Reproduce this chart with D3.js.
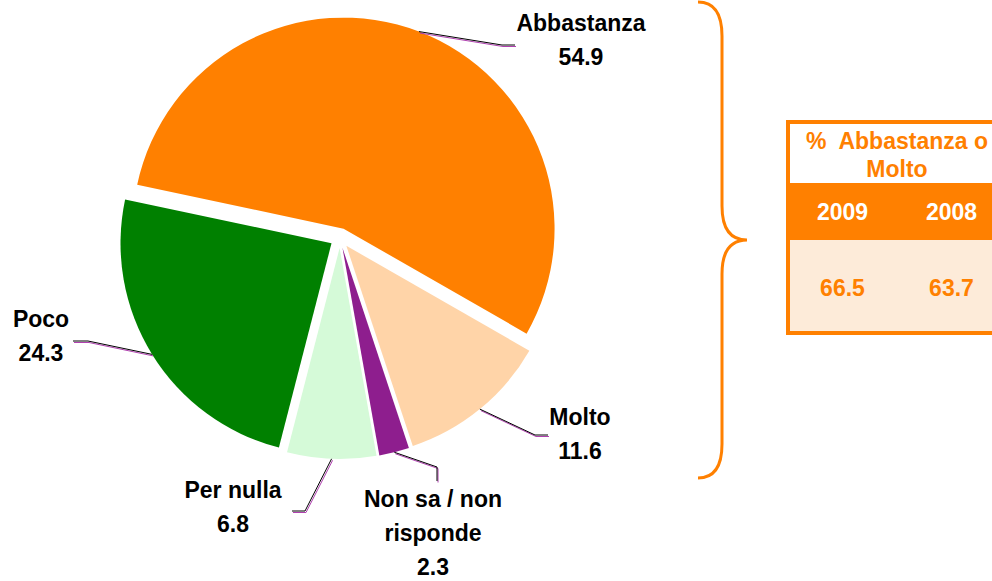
<!DOCTYPE html>
<html>
<head>
<meta charset="utf-8">
<script src="https://cdn.jsdelivr.net/npm/d3@7"></script>
<style>
  body { margin: 0; background: #fff; }
  svg { display: block; }
  text { font-family: "Liberation Sans", Arial, sans-serif; font-weight: bold; white-space: pre; }
</style>
</head>
<body>
<svg id="chart"></svg>
<script>
// data
const categories = ["Abbastanza", "Molto", "Non sa / non risponde", "Per nulla", "Poco"];
const values = [54.9, 11.6, 2.3, 6.8, 24.3];
const sliceColors = ["#FF8000", "#FFD4A8", "#8E1E8E", "#D5FAD8", "#008000"];
const labelLines = [["Abbastanza"], ["Molto"], ["Non sa / non", "risponde"], ["Per nulla"], ["Poco"]];
const tableYears = ["2009", "2008"];
const tableValues = [66.5, 63.7];
const tableTitle = ["%  Abbastanza o", "Molto"];

// layout for labels: text anchor + leader elbow/end points
const labelLayout = [
    {x: 581, y: 31, elbow: [502, 45], end: [515, 45]},
    {x: 580, y: 425, elbow: [535, 435], end: [548, 435]},
    {x: 433, y: 507, elbow: [437, 467], end: [437, 481]},
    {x: 233, y: 498, elbow: [305, 511], end: [292, 511]},
    {x: 41, y: 327, elbow: [88, 341], end: [73, 341]}
];

const width = 992;
const height = 581;
const cx = 340, cy = 238;
const radius = 211;
const explode = 10;
const fontSize = 23;
const lineH = 34;

const svg = d3.select("#chart")
    .attr("width", width)
    .attr("height", height);

const startA = -78 * Math.PI / 180;
const pie = d3.pie().sort(null).value(d => d).startAngle(startA).endAngle(startA + 2 * Math.PI);
const arcs = pie(values);
const arc = d3.arc().innerRadius(0).outerRadius(radius);

const mid = d => (d.startAngle + d.endAngle) / 2;
const dirOf = a => [Math.sin(a), -Math.cos(a)];

const pieG = svg.append("g").attr("transform", `translate(${cx},${cy})`);

pieG.selectAll("path.slice")
    .data(arcs)
    .enter().append("path")
    .attr("class", "slice")
    .attr("transform", d =>
    {
        const [dx, dy] = dirOf(mid(d));
        return `translate(${dx * explode},${dy * explode})`;
    })
    .attr("d", arc)
    .attr("fill", (d, i) => sliceColors[i]);

// leader lines
arcs.forEach((d, i) =>
{
    const [dx, dy] = dirOf(mid(d));
    const sx = cx + dx * (explode + radius);
    const sy = cy + dy * (explode + radius);
    const lay = labelLayout[i];
    const pts = [[sx, sy], lay.elbow, lay.end];

    svg.append("polyline")
        .attr("points", pts.map(p => `${p[0] + 1},${p[1] + 1.5}`).join(" "))
        .attr("fill", "none")
        .attr("stroke", "#B040B0")
        .attr("stroke-width", 1);

    svg.append("polyline")
        .attr("points", pts.map(p => p.join(",")).join(" "))
        .attr("fill", "none")
        .attr("stroke", "#000")
        .attr("stroke-width", 1);

    const lines = labelLines[i].concat([values[i].toFixed(1)]);
    lines.forEach((t, j) =>
    {
        svg.append("text")
            .attr("x", lay.x)
            .attr("y", lay.y + j * lineH)
            .attr("text-anchor", "middle")
            .attr("font-size", fontSize)
            .attr("fill", "#000")
            .text(t);
    });
});

// brace
svg.append("path")
    .attr("d", "M698,2 Q722,2 722,36 L722,206 Q722,240 747,240 Q722,240 722,274 L722,444 Q722,478 698,478")
    .attr("fill", "none")
    .attr("stroke", "#FF8000")
    .attr("stroke-width", 3);

// summary table
const tx = 788, ty = 122, tw = 218;
const headH = 61, yearH = 57, valH = 93;
const colX = d3.scalePoint().domain(tableYears).range([tx + tw / 4, tx + 3 * tw / 4]);

const tbl = svg.append("g");
tbl.append("rect")
    .attr("x", tx).attr("y", ty + headH)
    .attr("width", tw).attr("height", yearH)
    .attr("fill", "#FF8000");
tbl.append("rect")
    .attr("x", tx).attr("y", ty + headH + yearH)
    .attr("width", tw).attr("height", valH)
    .attr("fill", "#FDEBD9");
tbl.append("rect")
    .attr("x", tx).attr("y", ty)
    .attr("width", tw).attr("height", headH + yearH + valH)
    .attr("fill", "none")
    .attr("stroke", "#FF8000")
    .attr("stroke-width", 4);

tableTitle.forEach((t, j) =>
{
    tbl.append("text")
        .attr("x", tx + tw / 2)
        .attr("y", ty + 27 + j * 28)
        .attr("text-anchor", "middle")
        .attr("font-size", fontSize)
        .attr("fill", "#FF8000")
        .text(t);
});

tbl.selectAll("text.year")
    .data(tableYears)
    .enter().append("text")
    .attr("class", "year")
    .attr("x", d => colX(d))
    .attr("y", ty + headH + 37)
    .attr("text-anchor", "middle")
    .attr("font-size", fontSize)
    .attr("fill", "#fff")
    .text(d => d);

tbl.selectAll("text.val")
    .data(tableValues)
    .enter().append("text")
    .attr("class", "val")
    .attr("x", (d, i) => colX(tableYears[i]))
    .attr("y", ty + headH + yearH + 56)
    .attr("text-anchor", "middle")
    .attr("font-size", fontSize)
    .attr("fill", "#FF8000")
    .text(d => d.toFixed(1));
</script>
</body>
</html>
